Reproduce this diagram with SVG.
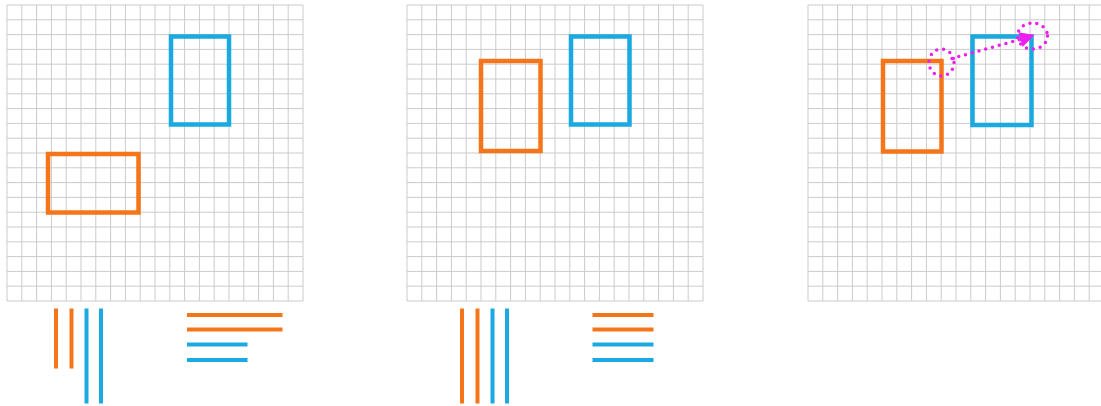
<svg xmlns="http://www.w3.org/2000/svg" xmlns:xlink="http://www.w3.org/1999/xlink" width="1101" height="406" viewBox="0 0 1101 406">
<style>
.grid{fill:none;stroke:#cbcbcb;stroke-width:1}
.or{fill:none;stroke:#f5761a;stroke-width:4.5}
.bl{fill:none;stroke:#1aa9e1;stroke-width:4.5}
.bo{stroke:#f5761a;stroke-width:4}
.bb{stroke:#1aa9e1;stroke-width:4}
.mg{fill:none;stroke:#ee1eee;stroke-width:3.5;stroke-linecap:round;stroke-dasharray:0 7}
</style>
<defs>
<g id="gridcells">
<path class="grid" d="M0 0V296M14.8 0V296M29.6 0V296M44.4 0V296M59.2 0V296M74 0V296M88.8 0V296M103.6 0V296M118.4 0V296M133.2 0V296M148 0V296M162.8 0V296M177.6 0V296M192.4 0V296M207.2 0V296M222 0V296M236.8 0V296M251.6 0V296M266.4 0V296M281.2 0V296M296 0V296M0 0H296M0 14.8H296M0 29.6H296M0 44.4H296M0 59.2H296M0 74H296M0 88.8H296M0 103.6H296M0 118.4H296M0 133.2H296M0 148H296M0 162.8H296M0 177.6H296M0 192.4H296M0 207.2H296M0 222H296M0 236.8H296M0 251.6H296M0 266.4H296M0 281.2H296M0 296H296"/>
</g>
</defs>
<rect width="1101" height="406" fill="#fff"/>
<g id="grids">
<use xlink:href="#gridcells" x="7" y="5"/>
<use xlink:href="#gridcells" x="407" y="5"/>
<use xlink:href="#gridcells" x="808" y="5"/>
</g>
<g id="panel1">
<g id="p1-blue"><rect class="bl" x="171" y="36.5" width="58" height="88"/></g>
<g id="p1-orange"><rect class="or" x="48" y="154" width="90.5" height="58.5"/></g>
<g id="p1-bars">
<line class="bo" x1="56" y1="308.5" x2="56" y2="368.5"/>
<line class="bo" x1="71.5" y1="308.5" x2="71.5" y2="368.5"/>
<line class="bb" x1="86.5" y1="308.5" x2="86.5" y2="403.5"/>
<line class="bb" x1="101" y1="308.5" x2="101" y2="403.5"/>
<line class="bo" x1="187" y1="315" x2="282.5" y2="315"/>
<line class="bo" x1="187" y1="329.5" x2="282.5" y2="329.5"/>
<line class="bb" x1="187" y1="344.5" x2="247.5" y2="344.5"/>
<line class="bb" x1="187" y1="360" x2="247.5" y2="360"/>
</g>
</g>
<g id="panel2">
<g id="p2-orange"><rect class="or" x="481" y="61" width="59.5" height="90"/></g>
<g id="p2-blue"><rect class="bl" x="571" y="36.5" width="58.5" height="88"/></g>
<g id="p2-bars">
<line class="bo" x1="462" y1="308.5" x2="462" y2="403.5"/>
<line class="bo" x1="477.5" y1="308.5" x2="477.5" y2="403.5"/>
<line class="bb" x1="492.5" y1="308.5" x2="492.5" y2="403.5"/>
<line class="bb" x1="507" y1="308.5" x2="507" y2="403.5"/>
<line class="bo" x1="592.5" y1="315" x2="653.5" y2="315"/>
<line class="bo" x1="592.5" y1="329.5" x2="653.5" y2="329.5"/>
<line class="bb" x1="592.5" y1="344.5" x2="653.5" y2="344.5"/>
<line class="bb" x1="592.5" y1="360" x2="653.5" y2="360"/>
</g>
</g>
<g id="panel3">
<g id="p3-orange"><rect class="or" x="883" y="61" width="58.5" height="90.5"/></g>
<g id="p3-blue"><rect class="bl" x="972.5" y="36.5" width="59" height="88.5"/></g>
</g>
<g id="connectors">
<ellipse class="mg" cx="941.5" cy="62.5" rx="12.5" ry="13.5"/>
<ellipse class="mg" cx="1032.5" cy="36" rx="15" ry="13"/>
<line class="mg" x1="952" y1="58.5" x2="1020" y2="39.5"/>
<path d="M1034.5 35L1018.5 32.2L1022.6 47Z" fill="#ee1eee"/>
</g>
</svg>
